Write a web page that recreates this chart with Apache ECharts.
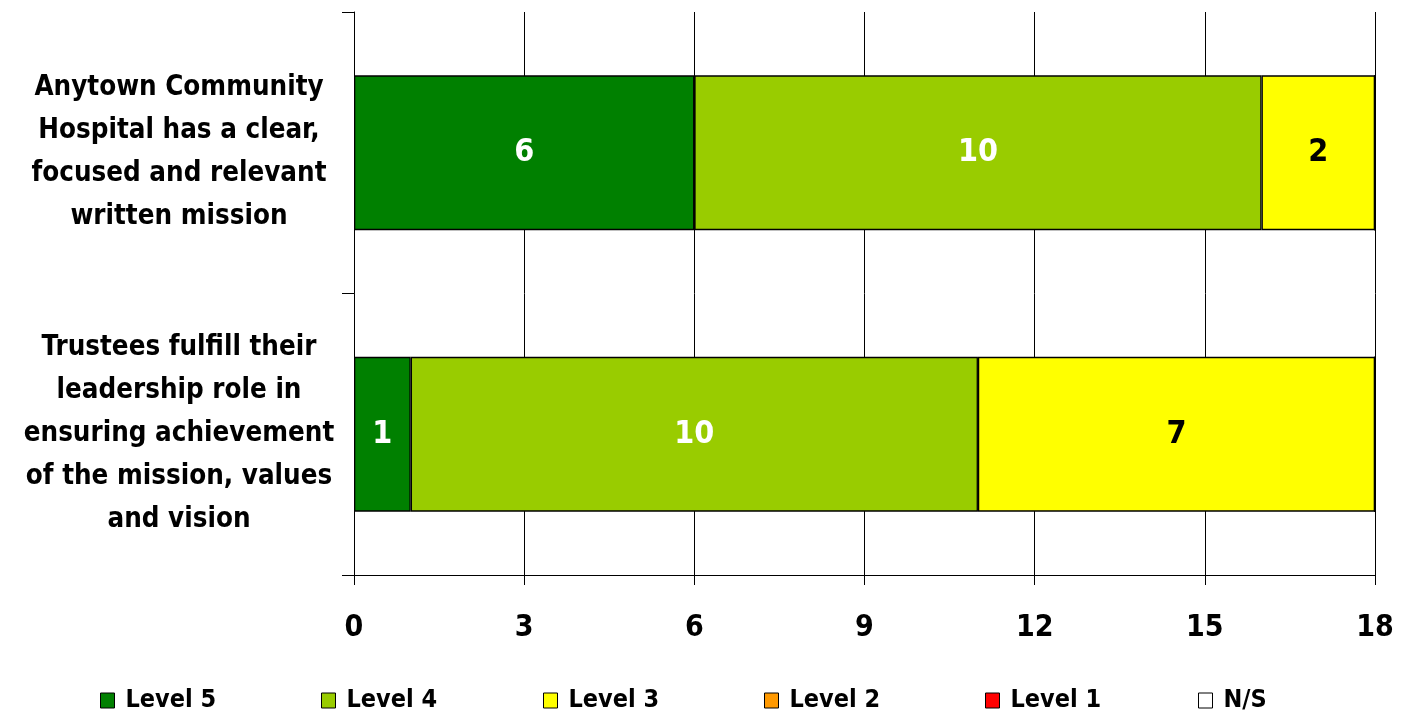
<!DOCTYPE html>
<html>
<head>
<meta charset="utf-8">
<script src="https://cdn.jsdelivr.net/npm/echarts@6/dist/echarts.min.js"></script>
<style>
html,body{margin:0;padding:0;background:#fff;}
#chart{width:1410px;height:710px;}
</style>
</head>
<body>
<div id="chart"></div>
<script>
const categories = [
  "Anytown Community\nHospital has a clear,\nfocused and relevant\nwritten mission",
  "Trustees fulfill their\nleadership role in\nensuring achievement\nof the mission, values\nand vision"
];
const seriesNames = ["Level 5", "Level 4", "Level 3", "Level 2", "Level 1", "N/S"];
const level5 = [6, 1];
const level4 = [10, 10];
const level3 = [2, 7];
const level2 = [0, 0];
const level1 = [0, 0];
const levelNS = [0, 0];
const xTicks = [0, 3, 6, 9, 12, 15, 18];

const values = [level5, level4, level3, level2, level1, levelNS];
const colors = ["#008000", "#99CC00", "#FFFF00", "#FF9900", "#FF0000", "#FFFFFF"];
const labelColors = ["#FFFFFF", "#FFFFFF", "#000000", "#000000", "#FFFFFF", "#000000"];
const FONT = "'Liberation Sans Narrow', 'DejaVu Sans Condensed', 'Liberation Sans', sans-serif";

const chart = echarts.init(document.getElementById('chart'), null, {renderer: 'canvas'});

const series = seriesNames.map((name, i) => ({
  name: name,
  type: 'bar',
  stack: 'total',
  barWidth: '55%',
  data: values[i],
  itemStyle: {color: colors[i], borderColor: '#000', borderWidth: 1.3},
  label: {
    show: true,
    position: 'inside',
    color: labelColors[i],
    fontFamily: FONT,
    fontWeight: 'bold',
    fontSize: 32,
    formatter: p => (p.value > 0 ? String(p.value) : '')
  },
  emphasis: {disabled: true},
  animation: false
}));

const legendLefts = [95, 316, 538, 759, 980, 1193];
const legends = seriesNames.map((name, i) => ({
  data: [name],
  left: legendLefts[i],
  top: 683,
  itemWidth: 14,
  itemHeight: 15,
  itemGap: 0,
  itemStyle: {borderColor: '#000', borderWidth: 1},
  textStyle: {fontFamily: FONT, fontWeight: 'bold', fontSize: 25, color: '#000', padding: [0, 0, 0, 6]},
  selectedMode: false,
  icon: 'rect'
}));

chart.setOption({
  backgroundColor: '#fff',
  animation: false,
  grid: {left: 354, right: 35, top: 12, bottom: 135, containLabel: false},
  legend: legends,
  xAxis: {
    type: 'value',
    min: 0,
    max: 18,
    interval: 3,
    axisLine: {show: true, lineStyle: {color: '#000', width: 1}},
    axisTick: {show: true, length: 10, lineStyle: {color: '#000'}},
    splitLine: {show: true, lineStyle: {color: '#000', width: 1}},
    axisLabel: {
      margin: 38,
      color: '#000',
      fontFamily: FONT,
      fontWeight: 'bold',
      fontSize: 30,
      formatter: v => (xTicks.indexOf(v) >= 0 ? String(v) : '')
    }
  },
  yAxis: {
    type: 'category',
    inverse: true,
    data: categories,
    axisLine: {show: true, lineStyle: {color: '#000', width: 1}},
    axisTick: {show: true, length: 12, alignWithLabel: false, lineStyle: {color: '#000'}},
    axisLabel: {
      margin: 175,
      align: 'center',
      color: '#000',
      fontFamily: FONT,
      fontWeight: 'bold',
      fontSize: 27.5,
      lineHeight: 43
    }
  },
  series: series
});
</script>
</body>
</html>
